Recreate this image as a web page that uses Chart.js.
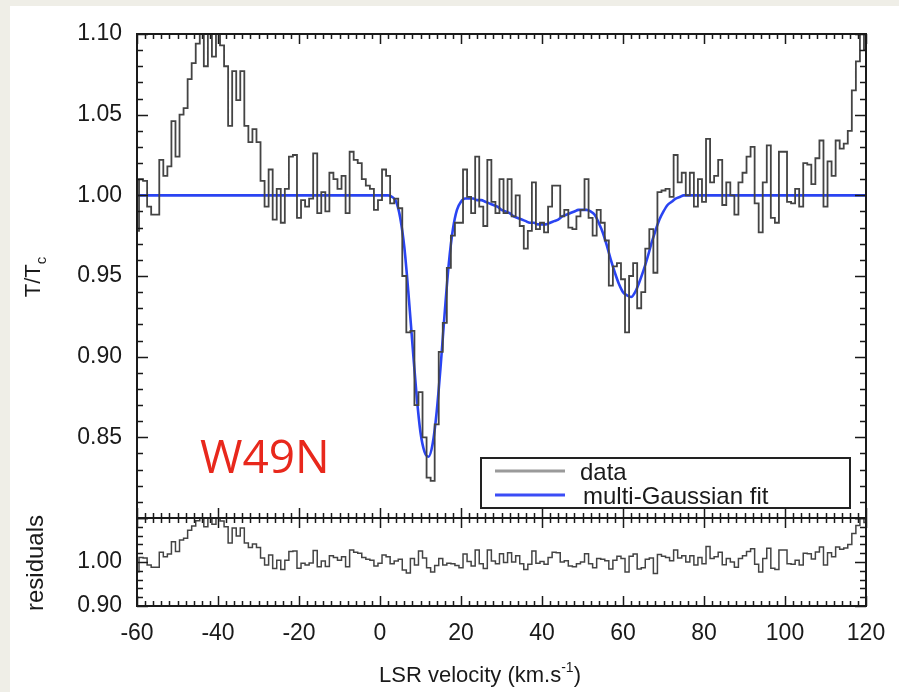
<!DOCTYPE html>
<html>
<head>
<meta charset="utf-8">
<script src="https://cdn.jsdelivr.net/npm/chart.js@4.4.0/dist/chart.umd.min.js"></script>
<style>
  html, body { margin: 0; padding: 0; background: #efeee7; }
  #sheet { position: absolute; left: 10px; top: 6px; width: 889px; height: 686px; background: #fff; }
  canvas { position: absolute; left: 0; top: 0; }
</style>
</head>
<body>
<div id="sheet"></div>
<canvas id="main" width="899" height="692"></canvas>
<canvas id="resid" width="899" height="692"></canvas>
<script>
// channel velocities (km/s)
const velocity = [
  -60,-59,-58,-57,-56,-55,-54,-53,-52,-51,-50,-49,-48,-47,-46,-45,-44,-43,-42,-41,
  -40,-39,-38,-37,-36,-35,-34,-33,-32,-31,-30,-29,-28,-27,-26,-25,-24,-23,-22,-21,
  -20,-19,-18,-17,-16,-15,-14,-13,-12,-11,-10,-9,-8,-7,-6,-5,-4,-3,-2,-1,
  0,1,2,3,4,5,6,7,8,9,10,11,12,13,14,15,16,17,18,19,
  20,21,22,23,24,25,26,27,28,29,30,31,32,33,34,35,36,37,38,39,
  40,41,42,43,44,45,46,47,48,49,50,51,52,53,54,55,56,57,58,59,
  60,61,62,63,64,65,66,67,68,69,70,71,72,73,74,75,76,77,78,79,
  80,81,82,83,84,85,86,87,88,89,90,91,92,93,94,95,96,97,98,99,
  100,101,102,103,104,105,106,107,108,109,110,111,112,113,114,115,116,117,118,119,120
];

// T/Tc spectrum
const spectrum = [
  0.978,1.010,1.009,0.993,0.988,0.988,1.022,1.012,1.018,1.046,1.024,1.050,1.054,1.072,1.082,1.094,1.105,1.080,1.105,1.086,
  1.105,1.093,1.080,1.043,1.077,1.059,1.077,1.043,1.033,1.041,1.033,1.009,0.993,1.016,0.985,1.004,0.983,1.004,1.024,1.025,
  0.986,0.997,0.993,0.998,1.026,0.989,1.002,0.990,1.014,1.010,1.004,1.012,0.989,1.027,1.022,1.020,1.010,1.006,1.004,0.991,
  0.997,1.016,1.012,0.995,0.998,0.992,0.950,0.915,0.916,0.870,0.878,0.850,0.825,0.823,0.858,0.903,0.921,0.955,0.975,0.983,
  0.983,1.016,0.999,0.989,1.024,0.993,0.981,1.022,0.996,0.989,1.010,0.989,1.010,0.987,1.000,0.981,0.967,0.978,1.008,0.979,
  0.983,0.977,0.993,1.006,1.006,0.987,0.991,0.980,0.979,0.987,0.991,1.010,0.986,0.975,0.991,0.983,0.972,0.944,0.956,0.958,
  0.948,0.915,0.950,0.958,0.930,0.940,0.967,0.979,0.952,1.002,1.003,1.004,0.999,1.025,1.008,1.014,1.000,1.014,0.993,1.010,
  0.996,1.035,1.008,1.012,1.022,0.994,1.008,1.000,0.988,1.008,1.014,1.024,1.030,0.995,0.977,1.008,1.031,0.986,0.983,1.027,
  1.027,0.996,0.995,1.004,0.993,1.020,1.019,1.007,1.023,1.034,0.993,1.021,1.012,1.034,1.029,1.032,1.040,1.065,1.083,1.100,1.090
];

// residual panel
const residuals = [
  0.978,1.010,1.009,0.993,0.988,0.988,1.022,1.012,1.018,1.046,1.024,1.050,1.054,1.072,1.082,1.094,1.105,1.080,1.105,1.086,
  1.105,1.093,1.080,1.043,1.077,1.059,1.077,1.043,1.033,1.041,1.033,1.009,0.993,1.016,0.985,1.004,0.983,1.004,1.024,1.025,
  0.986,0.997,0.993,0.998,1.026,0.989,1.002,0.990,1.014,1.010,1.004,1.012,0.989,1.027,1.022,1.020,1.010,1.006,1.004,0.991,
  0.997,1.016,1.012,0.996,1.002,1.006,0.982,0.975,1.008,0.993,1.025,1.009,0.987,0.977,0.992,1.008,0.993,0.997,0.996,0.992,
  0.987,1.018,1.001,0.991,1.027,0.996,0.985,1.027,1.002,0.996,1.019,0.999,1.021,1.000,1.014,0.996,0.983,0.995,1.025,0.997,
  1.001,0.995,1.010,1.022,1.021,1.000,1.003,0.991,0.989,0.996,1.000,1.019,0.996,0.987,1.008,1.006,1.003,0.984,1.004,1.013,
  1.008,0.977,1.013,1.018,0.984,0.987,1.006,1.009,0.974,1.017,1.013,1.010,1.003,1.027,1.009,1.014,1.000,1.014,0.993,1.010,
  0.996,1.035,1.008,1.012,1.022,0.994,1.008,1.000,0.988,1.008,1.014,1.024,1.030,0.995,0.977,1.008,1.031,0.986,0.983,1.027,
  1.027,0.996,0.995,1.004,0.993,1.020,1.019,1.007,1.023,1.034,0.993,1.021,1.012,1.034,1.029,1.032,1.040,1.065,1.083,1.100,1.090
];

// multi-Gaussian fit
const fitVel = [
  -60, 2, 3, 4, 5, 6, 7, 8, 9, 10, 11, 12, 13, 14, 15, 16, 17, 18, 19, 20,
  21, 22, 23, 24, 25, 26, 27, 28, 29, 30, 31, 32, 33, 34, 35, 36, 37, 38, 39, 40,
  41, 42, 43, 44, 45, 46, 47, 48, 49, 50, 51, 52, 53, 54, 55, 56, 57, 58, 59, 60,
  61, 62, 63, 64, 65, 66, 67, 68, 69, 70, 71, 72, 73, 74, 75, 76, 120
];
const fitT = [
  1.000, 1.000, 0.999, 0.996, 0.986, 0.968, 0.940, 0.908, 0.877, 0.853, 0.841, 0.838, 0.846, 0.866, 0.895, 0.928, 0.958, 0.979, 0.991, 0.996,
  0.998, 0.998, 0.998, 0.997, 0.997, 0.996, 0.995, 0.994, 0.993, 0.991, 0.990, 0.989, 0.987, 0.986, 0.985, 0.984, 0.983, 0.983, 0.982, 0.982,
  0.982, 0.983, 0.984, 0.985, 0.987, 0.988, 0.989, 0.990, 0.991, 0.991, 0.991, 0.990, 0.988, 0.983, 0.977, 0.969, 0.960, 0.952, 0.945, 0.940,
  0.938, 0.937, 0.940, 0.946, 0.953, 0.961, 0.970, 0.978, 0.985, 0.990, 0.994, 0.996, 0.998, 0.999, 1.000, 1.000, 1.000
];

const xTicks = [-60, -40, -20, 0, 20, 40, 60, 80, 100, 120];
const mainTicks = [0.85, 0.90, 0.95, 1.00, 1.05, 1.10];
const residTicks = [0.90, 1.00];

const FONT = '"Liberation Sans", Arial, Helvetica, sans-serif';
const INK = '#1a1a1a';

// inward tick marks + box, drawn from the chart's own scales
function boxTicks(opt) {
  return {
    id: 'boxTicks',
    afterDatasetsDraw(chart) {
      const { ctx, chartArea: a, scales } = chart;
      const xs = scales.x, ys = scales.y;
      ctx.save();
      ctx.strokeStyle = INK;
      ctx.lineWidth = 1.5;
      ctx.beginPath();
      for (let k = 0; k <= 90; k++) {
        const v = -60 + 2 * k;
        const px = Math.round(xs.getPixelForValue(v)) + 0.5;
        const len = (v % 20 === 0) ? 10 : 5;
        ctx.moveTo(px, a.top); ctx.lineTo(px, a.top + len);
        ctx.moveTo(px, a.bottom); ctx.lineTo(px, a.bottom - len);
      }
      const n = Math.round((opt.yMax - opt.yMin) / opt.minor);
      for (let k = 0; k <= n; k++) {
        const v = opt.yMin + k * opt.minor;
        const py = Math.round(ys.getPixelForValue(v)) + 0.5;
        const len = (k % opt.every === 0) ? 11 : 6;
        ctx.moveTo(a.left, py); ctx.lineTo(a.left + len, py);
        ctx.moveTo(a.right, py); ctx.lineTo(a.right - len, py);
      }
      ctx.stroke();
      ctx.lineWidth = 2;
      ctx.strokeRect(a.left, a.top, a.right - a.left, a.bottom - a.top);
      ctx.restore();
    }
  };
}

const mainExtras = {
  id: 'mainExtras',
  afterDraw(chart) {
    const ctx = chart.ctx;
    ctx.save();
    // legend box
    ctx.strokeStyle = '#222';
    ctx.lineWidth = 2;
    ctx.strokeRect(481, 458, 369, 50);
    ctx.lineWidth = 3;
    ctx.strokeStyle = '#9a9a9a';
    ctx.beginPath(); ctx.moveTo(495, 471); ctx.lineTo(565, 471); ctx.stroke();
    ctx.strokeStyle = '#3b4cf6';
    ctx.beginPath(); ctx.moveTo(495, 495); ctx.lineTo(565, 495); ctx.stroke();
    ctx.fillStyle = INK;
    ctx.font = '24px ' + FONT;
    ctx.textBaseline = 'alphabetic';
    ctx.fillText('data', 580, 480);
    ctx.fillText('multi-Gaussian fit', 583, 504);
    // source label
    ctx.fillStyle = '#e8281c';
    ctx.font = '46px "Open Sans", sans-serif';
    ctx.fillText('W49N', 200, 473);
    ctx.restore();
  }
};

const residExtras = {
  id: 'residExtras',
  afterDraw(chart) {
    const ctx = chart.ctx;
    ctx.save();
    ctx.fillStyle = INK;
    ctx.textBaseline = 'alphabetic';
    // x title with superscript
    const big = '22px ' + FONT, small = '14px ' + FONT;
    ctx.font = big;
    const t1 = 'LSR velocity (km.s', t3 = ')';
    const w1 = ctx.measureText(t1).width, w3 = ctx.measureText(t3).width;
    ctx.font = small;
    const w2 = ctx.measureText('-1').width;
    let x = 480 - (w1 + w2 + w3) / 2;
    const base = 682;
    ctx.font = big; ctx.fillText(t1, x, base); x += w1;
    ctx.font = small; ctx.fillText('-1', x, base - 10); x += w2;
    ctx.font = big; ctx.fillText(t3, x, base);
    // y titles (rotated)
    ctx.save();
    ctx.translate(40, 277);
    ctx.rotate(-Math.PI / 2);
    ctx.font = big;
    const wt = ctx.measureText('T/T').width;
    ctx.font = '15px ' + FONT;
    const wc = ctx.measureText('c').width;
    ctx.font = big;
    ctx.fillText('T/T', -(wt + wc) / 2, 0);
    ctx.font = '15px ' + FONT;
    ctx.fillText('c', -(wt + wc) / 2 + wt, 6);
    ctx.restore();
    ctx.save();
    ctx.translate(43, 563);
    ctx.rotate(-Math.PI / 2);
    ctx.font = '24px ' + FONT;
    ctx.textAlign = 'center';
    ctx.fillText('residuals', 0, 0);
    ctx.restore();
    ctx.restore();
  }
};

const tickFont = { family: FONT, size: 23 };

new Chart(document.getElementById('main'), {
  type: 'line',
  data: {
    datasets: [
      {
        label: 'data',
        data: velocity.map((v, i) => ({ x: v, y: spectrum[i] })),
        stepped: 'middle',
        borderColor: '#444444',
        borderWidth: 1.8,
        pointRadius: 0
      },
      {
        label: 'multi-Gaussian fit',
        data: fitVel.map((v, i) => ({ x: v, y: fitT[i] })),
        cubicInterpolationMode: 'monotone',
        borderColor: '#2a44f2',
        borderWidth: 2.6,
        pointRadius: 0
      }
    ]
  },
  options: {
    responsive: false,
    animation: false,
    events: [],
    layout: { padding: { top: 34, right: 33, bottom: 174, left: 0 } },
    plugins: { legend: { display: false }, tooltip: { enabled: false } },
    scales: {
      x: { type: 'linear', min: -60, max: 120, display: false },
      y: {
        min: 0.80, max: 1.10,
        grid: { display: false },
        border: { display: false },
        afterBuildTicks: s => { s.ticks = mainTicks.map(v => ({ value: v })); },
        afterFit: s => { s.width = 137; },
        ticks: { padding: 7, color: INK, font: tickFont, callback: v => Number(v).toFixed(2) }
      }
    }
  },
  plugins: [boxTicks({ yMin: 0.80, yMax: 1.10, minor: 0.01, every: 5 }), mainExtras]
});

new Chart(document.getElementById('resid'), {
  type: 'line',
  data: {
    datasets: [{
      label: 'residuals',
      data: velocity.map((v, i) => ({ x: v, y: residuals[i] })),
      stepped: 'middle',
      borderColor: '#444444',
      borderWidth: 1.5,
      pointRadius: 0
    }]
  },
  options: {
    responsive: false,
    animation: false,
    events: [],
    layout: { padding: { top: 518, right: 33, bottom: 0, left: 0 } },
    plugins: { legend: { display: false }, tooltip: { enabled: false } },
    scales: {
      x: {
        type: 'linear', min: -60, max: 120,
        grid: { display: false },
        border: { display: false },
        afterBuildTicks: s => { s.ticks = xTicks.map(v => ({ value: v })); },
        afterFit: s => { s.height = 86; },
        ticks: { padding: 6, color: INK, font: tickFont, maxRotation: 0, autoSkip: false }
      },
      y: {
        min: 0.90, max: 1.10,
        grid: { display: false },
        border: { display: false },
        afterBuildTicks: s => { s.ticks = residTicks.map(v => ({ value: v })); },
        afterFit: s => { s.width = 137; },
        ticks: { padding: 7, color: INK, font: tickFont, callback: v => Number(v).toFixed(2) }
      }
    }
  },
  plugins: [boxTicks({ yMin: 0.90, yMax: 1.10, minor: 0.02, every: 5 }), residExtras]
});
</script>
</body>
</html>
